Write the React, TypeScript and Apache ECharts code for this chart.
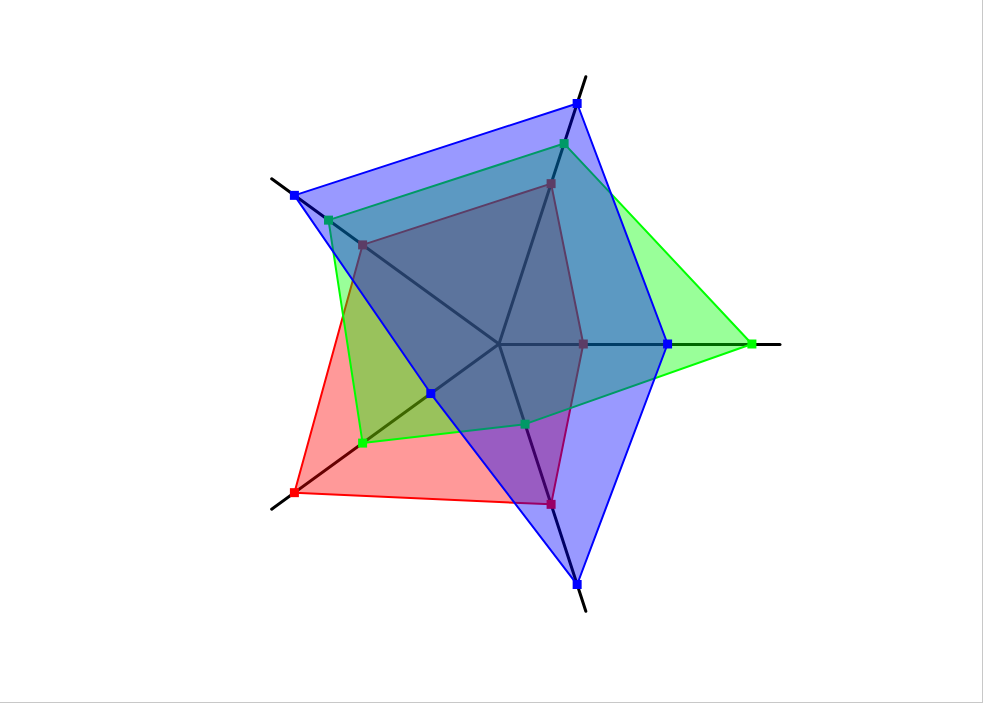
import React, { useEffect, useRef } from "react";
import * as echarts from "echarts";

const indicatorNames = ["A", "B", "C", "D", "E"];
const indicatorMax = [1, 1, 1, 1, 1];
const seriesNames = ["Red", "Green", "Blue"];
const seriesColors = ["#ff0000", "#00ff00", "#0000ff"];
const redValues = [0.3, 0.6, 0.6, 0.9, 0.6];
const greenValues = [0.9, 0.75, 0.75, 0.6, 0.3];
const blueValues = [0.6, 0.9, 0.9, 0.3, 0.9];

export default function App() {
  const ref = useRef<HTMLDivElement>(null);
  useEffect(() => {
    document.body.style.margin = "0";
    const chart = echarts.init(ref.current!, null, { renderer: "svg" });
    const allValues = [redValues, greenValues, blueValues];
    chart.setOption({
      animation: false,
      backgroundColor: "#ffffff",
      radar: {
        z: 1,
        center: [499, 344],
        radius: 281,
        startAngle: 0,
        shape: "polygon",
        indicator: indicatorNames.map((n, i) => ({ name: n, max: indicatorMax[i], min: 0 })),
        axisName: { show: false },
        splitLine: { show: false },
        splitArea: { show: false },
        axisTick: { show: false },
        axisLabel: { show: false },
        axisLine: { show: true, lineStyle: { color: "#000000", width: 3 } },
      },
      series: allValues.map((vals, i) => ({
        type: "radar",
        name: seriesNames[i],
        z: 2 + i,
        symbol: "rect",
        symbolSize: 9,
        itemStyle: { color: seriesColors[i] },
        lineStyle: { color: seriesColors[i], width: 2 },
        areaStyle: { color: seriesColors[i], opacity: 0.4 },
        data: [{ value: vals, name: seriesNames[i] }],
      })),
    });
    return () => chart.dispose();
  }, []);
  return (
    <div
      ref={ref}
      style={{
        position: "fixed",
        left: 0,
        top: 0,
        width: 983,
        height: 703,
        boxSizing: "border-box",
        borderRight: "1px solid #c8c8c8",
        borderBottom: "1px solid #c8c8c8",
      }}
    />
  );
}
